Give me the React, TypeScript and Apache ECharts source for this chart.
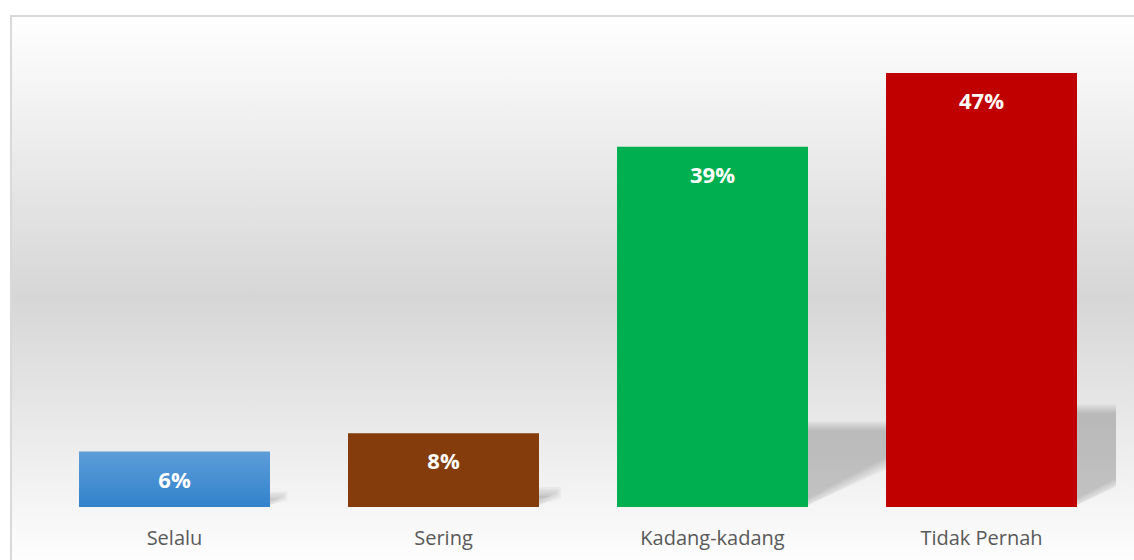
import React, { useEffect, useRef } from "react";
import * as echarts from "echarts";

const categories = ["Selalu", "Sering", "Kadang-kadang", "Tidak Pernah"];
const values = [6, 8, 39, 47];
const yMax = 50;

export default function App() {
  const ref = useRef<HTMLDivElement>(null);

  useEffect(() => {
    if (!ref.current) return;
    const chart = echarts.init(ref.current, undefined, { renderer: "svg" });

    const blue = new echarts.graphic.LinearGradient(0, 0, 0, 1, [
      { offset: 0, color: "#5d9dd8" },
      { offset: 1, color: "#3282cc" },
    ]);
    const colors: any[] = [blue, "#843c0c", "#00b050", "#c00000"];

    const option: any = {
      animation: false,
      graphic: [
        {
          type: "rect",
          z: -10,
          silent: true,
          shape: { x: 11, y: 16, width: 1200, height: 560 },
          style: {
            fill: new echarts.graphic.LinearGradient(0, 0, 0, 1, [
              { offset: 0, color: "#ffffff" },
              { offset: 0.5, color: "#d6d6d6" },
              { offset: 0.97, color: "#fdfdfd" },
              { offset: 1, color: "#ffffff" },
            ]),
            stroke: "#d9d9d9",
            lineWidth: 2,
          },
        },
      ],
      grid: { left: 40, right: 18, top: 45.3, bottom: 53, containLabel: false },
      xAxis: {
        type: "category",
        data: categories,
        axisLine: { show: false },
        axisTick: { show: false },
        axisLabel: {
          color: "#595959",
          fontSize: 20,
          fontFamily: "Open Sans",
          margin: 20,
        },
      },
      yAxis: {
        type: "value",
        min: 0,
        max: yMax,
        show: false,
        splitLine: { show: false },
      },
      series: [
        {
          type: "custom",
          z: 1,
          clip: true,
          silent: true,
          data: values.map((v, i) => [i, v]),
          renderItem: (params: any, api: any) => {
            const i = api.value(0);
            const v = api.value(1);
            const top = api.coord([i, v]);
            const base = api.coord([i, 0]);
            const bw = api.size([1, 0])[0] * 0.71;
            const left = top[0] - bw / 2;
            const right = top[0] + bw / 2;
            const H = base[1] - top[1];
            const yt = base[1] - 0.23 * H;
            const e = 0.26 * H;
            const xr = right + e;
            const yb = base[1] - 2;
            const children: any[] = [];
            const n = 6;
            for (let k = 0; k < n; k++) {
              const d = k * 1.8 - 3;
              children.push({
                type: "polygon",
                shape: {
                  points: [
                    [left, yt + d],
                    [xr - d, yt + d],
                    [xr - d, Math.max(yt + d, yb - 0.5 * e - d)],
                    [right, Math.min(yb, yb - d)],
                    [left, Math.min(yb, yb - d)],
                  ],
                },
                style: { fill: "rgba(0,0,0,0.037)" },
              });
            }
            return { type: "group", children };
          },
        },
        {
          type: "bar",
          z: 2,
          barCategoryGap: "29%",
          data: values.map((v, i) => ({ value: v, itemStyle: { color: colors[i] } })),
          label: {
            show: true,
            position: "insideTop",
            distance: 16,
            formatter: "{c}%",
            color: "#ffffff",
            fontWeight: "bold",
            fontSize: 22,
            fontFamily: "Open Sans",
          },
        },
      ],
    };

    chart.setOption(option);
    return () => chart.dispose();
  }, []);

  return (
    <div
      ref={ref}
      style={{ position: "absolute", left: 0, top: 0, width: 1134, height: 560, background: "#ffffff" }}
    />
  );
}
